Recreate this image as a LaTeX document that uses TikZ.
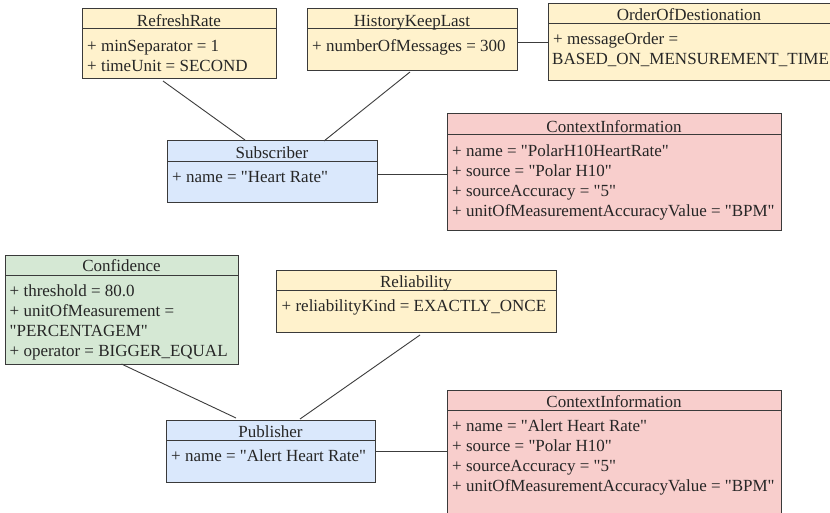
\documentclass[tikz,border=0pt]{standalone}
\usepackage{fontspec}
\setmainfont{Liberation Serif}[Ligatures=TeXOff]
\usetikzlibrary{calc}
\definecolor{strk}{HTML}{3A3A3A}
\definecolor{linec}{HTML}{3C3C3C}
\definecolor{yel}{HTML}{FFF2CC}
\definecolor{blu}{HTML}{DAE8FC}
\definecolor{redf}{HTML}{F8CECC}
\definecolor{grn}{HTML}{D5E8D4}
\tikzset{
  classbox/.style={draw=strk, line width=1pt, inner sep=0pt, outer sep=0pt, anchor=north west, rectangle},
  sepline/.style={draw=strk, line width=1pt},
  ttl/.style={font=\fontsize{17}{20}\selectfont, inner sep=0pt, anchor=base, text=black!85},
  attr/.style={font=\fontsize{17}{20}\selectfont, inner sep=0pt, anchor=base west, text=black!85},
  conn/.style={draw=linec, line width=0.9pt}
}
\begin{document}
\begin{tikzpicture}[x=1pt,y=-1pt]
\useasboundingbox (0,0) rectangle (830,513);
\clip (0,0) rectangle (830,513);
\fill[white] (0,0) rectangle (830,513);

% RefreshRate
\node[classbox, fill=yel, minimum width=194pt, minimum height=70pt] (rr) at (82,9) {};
\draw[sepline] ($(rr.north west)+(0,20)$) -- ($(rr.north east)+(0,20)$);
\node[ttl] (rrT) at (179,26.5) {RefreshRate};
\node[attr] (rr1) at (87,51.5) {+ minSeparator = 1};
\node[attr] (rr2) at (87,71.5) {+ timeUnit = SECOND};

% HistoryKeepLast
\node[classbox, fill=yel, minimum width=210pt, minimum height=62pt] (hk) at (307,9) {};
\draw[sepline] ($(hk.north west)+(0,20)$) -- ($(hk.north east)+(0,20)$);
\node[ttl] (hkT) at (412,26.5) {HistoryKeepLast};
\node[attr] (hk1) at (312,51.5) {+ numberOfMessages = 300};

% OrderOfDestionation
\node[classbox, fill=yel, minimum width=300pt, minimum height=77pt] (od) at (548,4) {};
\draw[sepline] ($(od.north west)+(0,20)$) -- ($(od.north east)+(0,20)$);
\node[ttl] (odT) at (689,21) {OrderOfDestionation};
\node[attr] (od1) at (553,45) {+ messageOrder =};
\node[attr] (od2) at (552,65) {BASED\_ON\_MENSUREMENT\_TIME};

% Subscriber
\node[classbox, fill=blu, minimum width=210pt, minimum height=62pt] (sub) at (167,141) {};
\draw[sepline] ($(sub.north west)+(0,21)$) -- ($(sub.north east)+(0,21)$);
\node[ttl] (subT) at (272,158.5) {Subscriber};
\node[attr] (sub1) at (172,182.5) {+ name = "Heart Rate"};

% ContextInformation (top)
\node[classbox, fill=redf, minimum width=334pt, minimum height=117pt] (ci) at (447,114) {};
\draw[sepline] ($(ci.north west)+(0,21)$) -- ($(ci.north east)+(0,21)$);
\node[ttl] (ciT) at (614,133) {ContextInformation};
\node[attr] (ci1) at (452,156.5) {+ name = "PolarH10HeartRate"};
\node[attr] (ci2) at (452,176.5) {+ source = "Polar H10"};
\node[attr] (ci3) at (452,196.5) {+ sourceAccuracy = "5"};
\node[attr] (ci4) at (452,216.5) {+ unitOfMeasurementAccuracyValue = "BPM"};

% Confidence
\node[classbox, fill=grn, minimum width=233pt, minimum height=109pt] (cf) at (5,255) {};
\draw[sepline] ($(cf.north west)+(0,20)$) -- ($(cf.north east)+(0,20)$);
\node[ttl] (cfT) at (121.5,272) {Confidence};
\node[attr] (cf1) at (9.5,296.5) {+ threshold = 80.0};
\node[attr] (cf2) at (9.5,316.5) {+ unitOfMeasurement =};
\node[attr] (cf3) at (9.5,336.5) {"PERCENTAGEM"};
\node[attr] (cf4) at (9.5,356.5) {+ operator = BIGGER\_EQUAL};

% Reliability
\node[classbox, fill=yel, minimum width=280pt, minimum height=62pt] (rl) at (276,270) {};
\draw[sepline] ($(rl.north west)+(0,20.5)$) -- ($(rl.north east)+(0,20.5)$);
\node[ttl] (rlT) at (416,287.5) {Reliability};
\node[attr] (rl1) at (281.5,311.5) {+ reliabilityKind = EXACTLY\_ONCE};

% Publisher
\node[classbox, fill=blu, minimum width=209pt, minimum height=62pt] (pub) at (166,420) {};
\draw[sepline] ($(pub.north west)+(0,20)$) -- ($(pub.north east)+(0,20)$);
\node[ttl] (pubT) at (270.5,437.5) {Publisher};
\node[attr] (pub1) at (171,461.5) {+ name = "Alert Heart Rate"};

% ContextInformation (bottom)
\node[classbox, fill=redf, minimum width=334pt, minimum height=140pt] (cb) at (447,390) {};
\draw[sepline] ($(cb.north west)+(0,20)$) -- ($(cb.north east)+(0,20)$);
\node[ttl] (cbT) at (614,407.5) {ContextInformation};
\node[attr] (cb1) at (452,431) {+ name = "Alert Heart Rate"};
\node[attr] (cb2) at (452,451) {+ source = "Polar H10"};
\node[attr] (cb3) at (452,471) {+ sourceAccuracy = "5"};
\node[attr] (cb4) at (452,491) {+ unitOfMeasurementAccuracyValue = "BPM"};

% connectors
\coordinate (subE) at ($(sub.east)+(0,2.5)$);
\draw[conn] ($(rr.south)+(-16,2)$) -- ($(sub.north)+(-27,-1)$);
\draw[conn] ($(hk.south)+(-2,1)$) -- ($(sub.north)+(52,0)$);
\draw[conn] (od.west -| hk.east) -- (od.west);
\draw[conn] (subE) -- (subE -| ci.west);
\draw[conn] (cf.south) -- ($(pub.north)+(-34.5,-2)$);
\draw[conn] ($(rl.south)+(4,3)$) -- ($(pub.north)+(29.5,-1)$);
\draw[conn] (pub.east) -- (pub.east -| cb.west);
\end{tikzpicture}
\end{document}
